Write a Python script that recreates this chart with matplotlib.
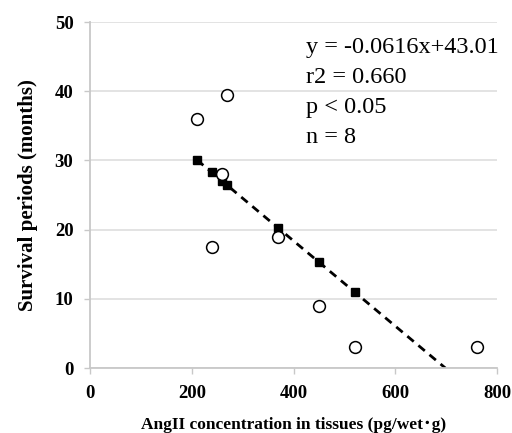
import numpy as np
import matplotlib.pyplot as plt

# data
angii = [210, 270, 260, 240, 370, 450, 520, 760]
survival = [36.0, 39.5, 28.0, 17.5, 18.9, 9.0, 3.0, 3.0]

# fitted (predicted) values shown as filled squares
fit_x = [210, 240, 260, 270, 370, 450, 520]
fit_y = [30.1, 28.3, 27.1, 26.5, 20.2, 15.3, 11.0]

slope = -0.0616
intercept = 43.01
stats_lines = ['y = -0.0616x+43.01', 'r2 = 0.660', 'p < 0.05', 'n = 8']

plt.rcParams['font.family'] = ['Liberation Serif', 'DejaVu Serif']

fig = plt.figure(figsize=(5.12, 4.33), dpi=100)
ax = fig.add_axes([0.176, 0.150, 0.795, 0.799])

# horizontal grid
ax.set_axisbelow(True)
ax.yaxis.grid(True, color='#e0e0e0', linewidth=1.3)

# regression line from first point to x-intercept
x_end = -intercept / slope
line_x = np.array([min(fit_x), x_end])
ax.plot(line_x, slope * line_x + intercept, color='black',
        linestyle=(0, (3, 2.2)), linewidth=2.0, zorder=2)

ax.plot(fit_x, fit_y, 's', color='black', markersize=6, zorder=3)
ax.plot(angii, survival, 'o', markerfacecolor='white',
        markeredgecolor='black', markeredgewidth=1.1, markersize=8.5,
        zorder=4, clip_on=False)

ax.text(425, 47.8, '\n'.join(stats_lines), fontsize=17.5, va='top',
        ha='left', linespacing=1.55)

ax.set_xlim(0, 800)
ax.set_ylim(0, 50)
ax.set_xticks([0, 200, 400, 600, 800])
ax.set_yticks([0, 10, 20, 30, 40, 50])

for side in ['top', 'right']:
    ax.spines[side].set_visible(False)
for side in ['left', 'bottom']:
    ax.spines[side].set_color('#c8c8c8')
    ax.spines[side].set_linewidth(1.3)

ax.tick_params(axis='both', colors='#c8c8c8', labelcolor='black',
               labelsize=13.5, length=4, width=1.0, pad=8)
for lbl in ax.get_xticklabels() + ax.get_yticklabels():
    lbl.set_fontweight('bold')

ax.set_xlabel('AngII concentration in tissues (pg/wet\uff65g)',
              fontsize=12.5, fontweight='bold', labelpad=11,
              family=['Liberation Serif', 'Noto Sans CJK JP'])
ax.set_ylabel('Survival periods (months)', fontsize=15, fontweight='bold',
              labelpad=12)

fig.savefig('out.png', dpi=100)
